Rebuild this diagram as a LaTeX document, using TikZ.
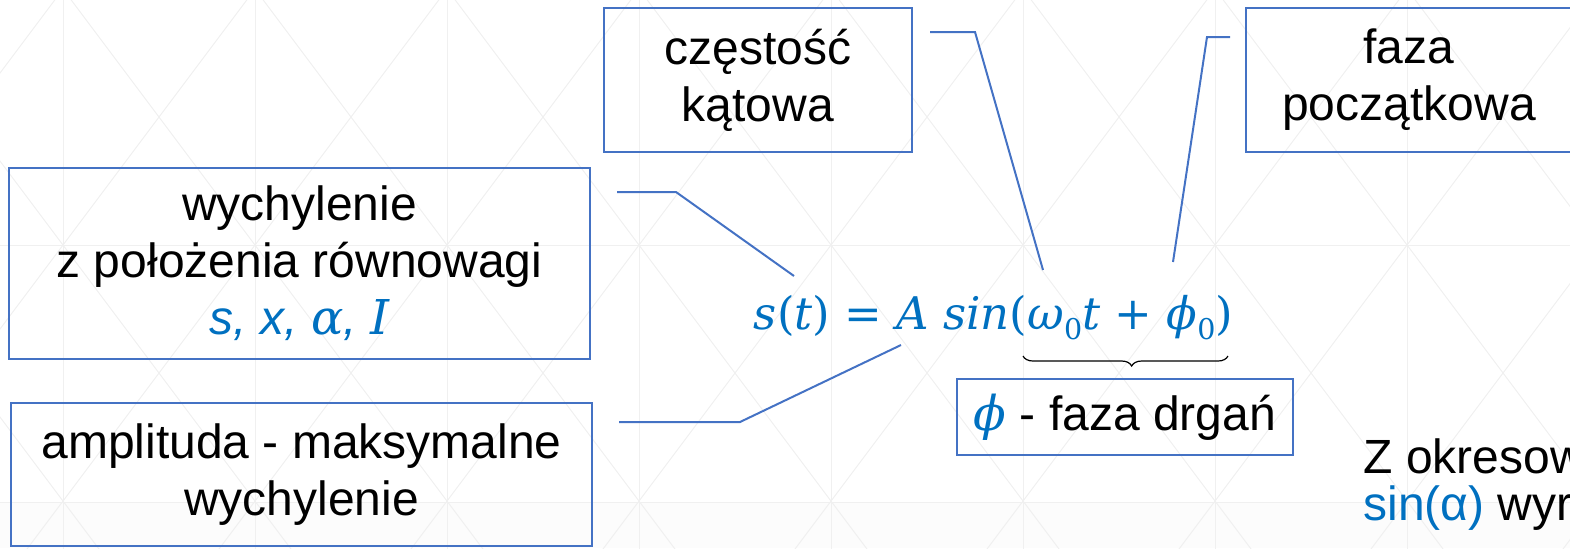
\RequirePackage{fix-cm}
\documentclass[tikz,border=0pt]{standalone}
\usepackage{fontspec}
\setmainfont{Liberation Sans}
\newfontfamily\mf{DejaVu Serif}
\usetikzlibrary{decorations.pathreplacing}
\definecolor{fblue}{HTML}{0070C0}
\definecolor{bblue}{HTML}{4472C4}
\definecolor{gridc}{HTML}{F0F0F0}
\definecolor{bandc}{HTML}{FCFCFC}
\newcommand\sbz{\raisebox{-5pt}{\upshape\fontsize{14.3}{14.3}\selectfont 0}}
\begin{document}
\begin{tikzpicture}[x=0.5pt,y=-0.5pt,
  lbl/.style={draw=bblue, line width=1pt, align=center, inner sep=0pt,
    font=\fontsize{24}{28.5}\selectfont},
  conn/.style={draw=bblue, line width=1pt},
  plain/.style={inner sep=0pt, font=\fontsize{24}{28.5}\selectfont},
  eqs/.style={inner sep=0pt, font=\mf\fontsize{22.5}{26}\selectfont}]
\useasboundingbox (0,0) rectangle (1570,548);
\clip (0,0) rectangle (1570,548);
\fill[bandc] (0,502) rectangle (1570,548);
% background grid
\begin{scope}[draw=gridc, line width=0.5pt]
  \foreach \k in {0,...,7} \draw ({63+192*\k},-10) -- ({63+192*\k},560);
  \draw (-10,245) -- (1580,245);
  \draw (-10,502) -- (1580,502);
  \foreach \k in {-4,...,12} {
    \draw ({63+192*\k-228.75},-60) -- ({63+192*\k+273.75},610);
    \draw ({63+192*\k+228.75},-60) -- ({63+192*\k-273.75},610);
  }
\end{scope}
% boxes
\node[lbl, minimum width=154pt, minimum height=72pt] (czest) at (758,80) {częstość\\kątowa};
\node[lbl, minimum width=163pt, minimum height=72pt] (faza) at (1409,80) {faza\\początkowa};
\node[lbl, minimum width=290.5pt, minimum height=95.5pt] (wych) at (299.5,263.5)
  {wychylenie\\z położenia równowagi\\{\color{fblue}\itshape s, x, {\mf α}, {\mf I}}};
\node[lbl, minimum width=290.5pt, minimum height=71.5pt] (ampl) at (301.5,474.5)
  {amplituda - maksymalne\\wychylenie};
\node[lbl, minimum width=168pt, minimum height=38pt] (fd) at (1125,417)
  {{\color{fblue}\mf\itshape ϕ} - faza drgań};
% formula
\node[eqs, anchor=base, text=fblue] (eq) at (993.5,329)
  {\itshape s\upshape(\itshape t\upshape)\ =\ \itshape A\ sin\upshape(\itshape ω\sbz t\ \upshape+\ \itshape ϕ\sbz\upshape)};
% brace
\draw[line width=0.6pt, decorate, decoration={brace, mirror, amplitude=5pt, aspect=0.53}]
  (1023,356) -- (1228,356);
% connectors
\coordinate (c1a) at (930,32);  \coordinate (c1b) at (975,32);  \coordinate (c1c) at (1043,270);
\coordinate (c2a) at (1230,37); \coordinate (c2b) at (1207,37); \coordinate (c2c) at (1173,262);
\coordinate (c3a) at (617,192); \coordinate (c3b) at (676,192); \coordinate (c3c) at (794,276);
\coordinate (c4a) at (619,422); \coordinate (c4b) at (740,422); \coordinate (c4c) at (901,345);
\draw[conn] (c1a) -- (c1b) -- (c1c);
\draw[conn] (c2a) -- (c2b) -- (c2c);
\draw[conn] (c3a) -- (c3b) -- (c3c);
\draw[conn] (c4a) -- (c4b) -- (c4c);
% bottom right text
\node[plain, anchor=base west] (zok) at (1363,473) {Z okresow};
\node[plain, anchor=base west] (sinw) at (1363,520) {{\color{fblue}sin(α)} wyr};
\end{tikzpicture}
\end{document}
